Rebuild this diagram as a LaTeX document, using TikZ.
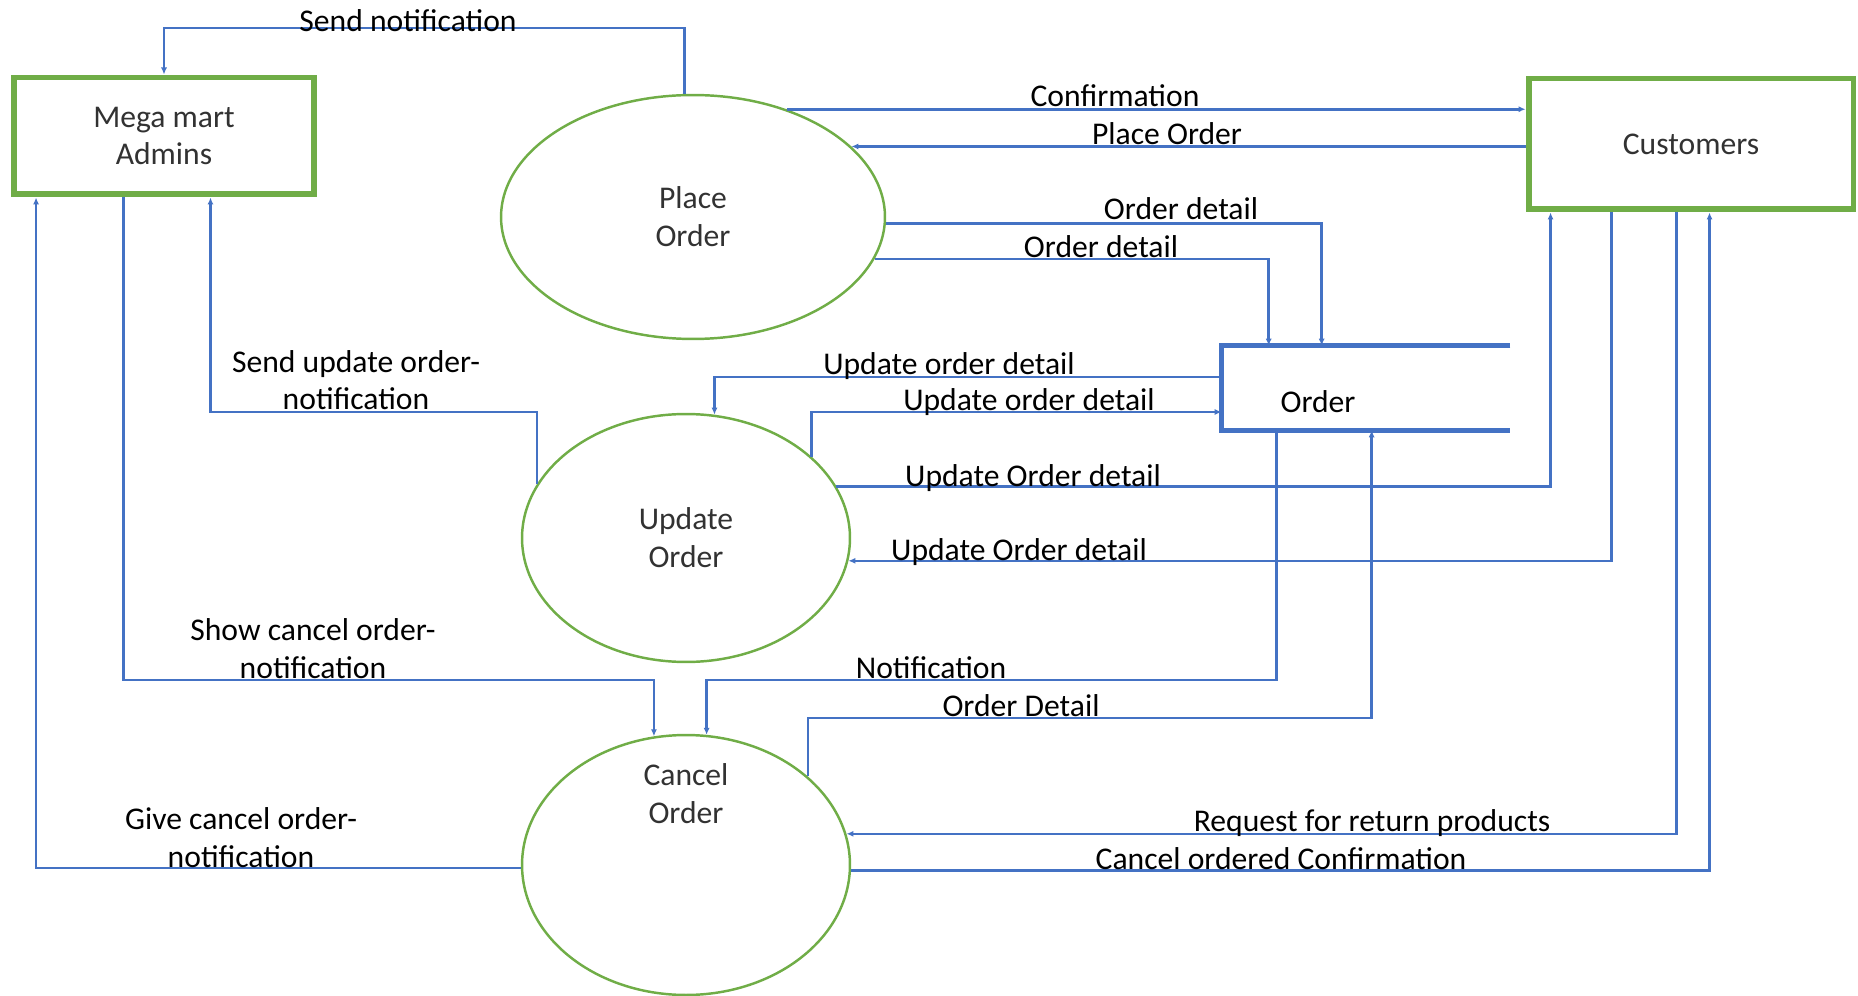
\documentclass[tikz,border=0pt]{standalone}
\usepackage{fontspec}
\setmainfont{Carlito}
\usetikzlibrary{shapes.geometric,arrows.meta}
\definecolor{dfdgreen}{RGB}{112,173,71}
\definecolor{dfdblue}{RGB}{68,114,196}
\definecolor{dfdtext}{RGB}{50,50,50}

\begin{document}
\begin{tikzpicture}[x=0.02cm, y=-0.02cm,
		font=\fontsize{18}{21.5}\selectfont,
		entity/.style={draw=dfdgreen, line width=3.4pt, text=dfdtext, align=center},
		process/.style={ellipse, draw=dfdgreen, line width=1.4pt, text=dfdtext, align=center, inner sep=0pt},
		storeline/.style={draw=dfdblue, line width=3pt},
		flow/.style={draw=dfdblue, line width=1.5pt, -{Latex[length=4pt,width=3.5pt]}},
		flowlabel/.style={anchor=base, inner sep=0pt, align=center}]
		\useasboundingbox (0,0) rectangle (1858,996);

		% ENTITIES AND PROCESSES
		\node[entity, minimum width=6.0cm, minimum height=2.34cm] (admins) at (164,136) {Mega mart\\Admins};
		\node[entity, minimum width=6.5cm, minimum height=2.62cm] (customers) at (1691,144) {Customers};
		\node[process, minimum width=7.68cm, minimum height=4.88cm] (place) at (693,217) {Place\\Order};
		\node[process, minimum width=6.56cm, minimum height=4.96cm] (update) at (686,538) {Update\\Order};
		\node[process, minimum width=6.56cm, minimum height=5.2cm] (cancel) at (686,865) {};
		\node[text=dfdtext, align=center] (cancel-text) at (686,794) {Cancel\\Order};

		% DATA STORE
		\node[minimum width=5.76cm, minimum height=1.68cm] (order) at (1366,388) {};
		\draw[storeline] (order.north east) -- (order.north west) -- (order.south west) -- (order.south east);
		\node (order-text) at (1318,402) {Order};

		% PLACE ORDER FLOWS
		\draw[flow] (place.94) -- (place.94 |- 0,28) -| (admins.north);
		\node[flowlabel] (l-send) at (408,32) {Send notification};
		\draw[flow] (place.49) -- (customers.west |- place.49);
		\node[flowlabel] (l-confirm) at (1115,107) {Confirmation};
		\draw[flow] (customers.west |- place.24) -- (place.24);
		\node[flowlabel] (l-place) at (1167,145) {Place Order};
		\draw[flow] (place.-2) -| ([xshift=2cm]order.north west);
		\node[flowlabel] (l-detail-a) at (1181,220) {Order detail};
		\draw[flow] (place.-13) -| ([xshift=0.94cm]order.north west);
		\node[flowlabel] (l-detail-b) at (1101,258) {Order detail};

		% UPDATE ORDER FLOWS
		\draw[flow] (order.west |- 0,377) -| (update.77);
		\node[flowlabel] (l-upd-a) at (949,375) {Update order detail};
		\draw[flow] (update.33) |- (order.west |- 0,412);
		\node[flowlabel] (l-upd-b) at (1029,411) {Update order detail};
		\draw[flow] (update.19) -| ([xshift=0.5cm]customers.south west);
		\node[flowlabel] (l-upd-c) at (1033,486) {Update Order detail};
		\draw[flow] ([xshift=1.72cm]customers.south west) |- (update.-8);
		\node[flowlabel] (l-upd-d) at (1019,560) {Update Order detail};
		\draw[flow] (update.160) -- (update.160 |- 0,412) -| ([xshift=0.93cm]admins.south);
		\node[flowlabel] (l-upd-note) at (356,410) {Send update order-\\notification};

		% CANCEL ORDER FLOWS
		\draw[flow] ([xshift=-0.81cm]admins.south) |- (cancel.104 |- 0,680) -- (cancel.104);
		\node[flowlabel] (l-show) at (313,678) {Show cancel order-\\notification};
		\draw[flow] ([xshift=1.1cm]order.south west) |- (cancel.81 |- 0,680) -- (cancel.81);
		\node[flowlabel] (l-note) at (931,678) {Notification};
		\draw[flow] (cancel.36) -- (cancel.36 |- 0,718) -| ([xshift=3cm]order.south west);
		\node[flowlabel] (l-detail-c) at (1021,716) {Order Detail};
		\draw[flow] ([xshift=3.02cm]customers.south west) |- (cancel.11);
		\node[flowlabel] (l-return) at (1372,831) {Request for return products};
		\draw[flow] (cancel.-2) -| ([xshift=3.68cm]customers.south west);
		\node[flowlabel] (l-cancel) at (1281,869) {Cancel ordered Confirmation};
		\draw[flow] (cancel.181) -| ([xshift=0.5cm]admins.south west);
		\node[flowlabel] (l-give) at (241,867) {Give cancel order-\\notification};
	\end{tikzpicture}
\end{document}
